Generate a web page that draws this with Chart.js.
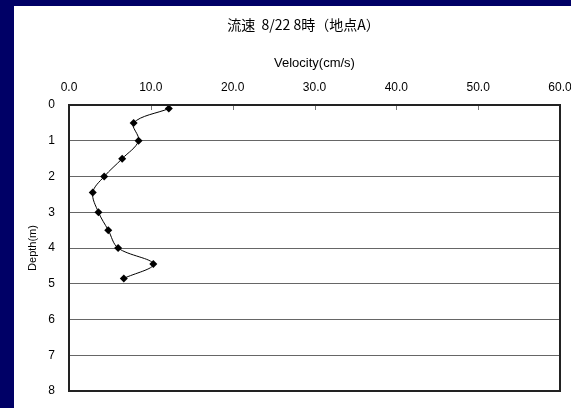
<!DOCTYPE html>
<html>
<head>
<meta charset="utf-8">
<script src="https://cdn.jsdelivr.net/npm/chart.js@4/dist/chart.umd.min.js"></script>
<style>
	html, body { margin: 0; padding: 0; background: #000066; overflow: hidden; }
	#panel { position: absolute; left: 14px; top: 6px; width: 557px; height: 402px; background: #ffffff; }
</style>
</head>
<body>
<div id="panel"><canvas id="velocityChart"></canvas></div>
<script>
// values
var velocity = [12.2, 7.9, 8.5, 6.5, 4.3, 2.9, 3.6, 4.8, 6.0, 10.3, 6.7];	// cm/s
var depth = [0.1, 0.5, 1.0, 1.5, 2.0, 2.45, 3.0, 3.5, 4.0, 4.45, 4.85];	// m
var chartTitle = '流速  8/22 8時（地点A）';
var xTitle = 'Velocity(cm/s)';
var yTitle = 'Depth(m)';

document.addEventListener('DOMContentLoaded', initializeVelocityChart);

// frame round the plot + short tick marks inside the top edge
var plotFrame = {
	id: 'plotFrame',
	afterLayout: function (chart) {
		// title sits a bit left of the plot centre in the original
		var t = chart.titleBlock;
		t.left = 0;
		t.right = 579;
		t.width = 579;
	},
	afterDraw: function (chart) {
		var ctx = chart.ctx;
		var area = chart.chartArea;
		var xs = chart.scales.x;
		ctx.save();
		ctx.strokeStyle = '#777777';
		ctx.lineWidth = 1;
		xs.ticks.forEach(function (t, i) {
			if (i === 0 || i === xs.ticks.length - 1) return;
			var px = Math.round(xs.getPixelForValue(t.value)) + 0.5;
			ctx.beginPath();
			ctx.moveTo(px, area.top);
			ctx.lineTo(px, area.top + 5);
			ctx.stroke();
		});
		ctx.strokeStyle = '#222222';
		ctx.lineWidth = 2;
		ctx.strokeRect(area.left, area.top, area.right - area.left, area.bottom - area.top);
		ctx.restore();
	}
};

function initializeVelocityChart() {
	var points = velocity.map(function (v, i) { return { x: v, y: depth[i] }; });

	var ctx = document.getElementById('velocityChart').getContext('2d');
	new Chart(ctx, {
		type: 'scatter',
		data: {
			datasets: [{
				data: points,
				showLine: true,
				borderColor: '#000000',
				borderWidth: 1,
				backgroundColor: '#000000',
				pointStyle: 'rectRot',
				pointRadius: 4,
				pointBorderWidth: 0,
				tension: 0.35
			}]
		},
		options: {
			responsive: true,
			maintainAspectRatio: false,
			animation: false,
			layout: { padding: { left: 0, right: 11, top: 0, bottom: 17 } },
			plugins: {
				legend: { display: false },
				tooltip: { enabled: false },
				title: {
					display: true,
					text: chartTitle,
					color: '#000000',
					font: { family: '"Noto Sans CJK JP", sans-serif', size: 14, weight: 'normal' },
					padding: { top: 10, bottom: 0 }
				}
			},
			scales: {
				x: {
					type: 'linear',
					position: 'top',
					min: 0,
					max: 60,
					grid: { display: false, drawTicks: false },
					border: { display: false },
					ticks: {
						stepSize: 10,
						padding: 10,
						color: '#000000',
						font: { family: '"Liberation Sans", Arial, sans-serif', size: 12 },
						callback: function (v) { return v.toFixed(1); }
					},
					title: {
						display: true,
						text: xTitle,
						color: '#000000',
						font: { family: '"Liberation Sans", Arial, sans-serif', size: 13 },
						padding: { top: 23, bottom: 0 }
					},
					afterFit: function (s) { s.height = 72.2; s.paddingLeft = 0; s.paddingRight = 0; }
				},
				y: {
					type: 'linear',
					reverse: true,
					min: 0,
					max: 8,
					grid: { color: '#666666', lineWidth: 1, drawTicks: false },
					border: { display: false },
					ticks: {
						stepSize: 1,
						padding: 14,
						color: '#000000',
						font: { family: '"Liberation Sans", Arial, sans-serif', size: 12 }
					},
					title: {
						display: true,
						text: yTitle,
						color: '#000000',
						font: { family: '"Liberation Sans", Arial, sans-serif', size: 11 },
						padding: { top: 12, bottom: 0 }
					},
					afterFit: function (s) { s.width = 55; s.paddingTop = 0; s.paddingBottom = 0; }
				}
			}
		},
		plugins: [plotFrame]
	});
}
</script>
</body>
</html>
